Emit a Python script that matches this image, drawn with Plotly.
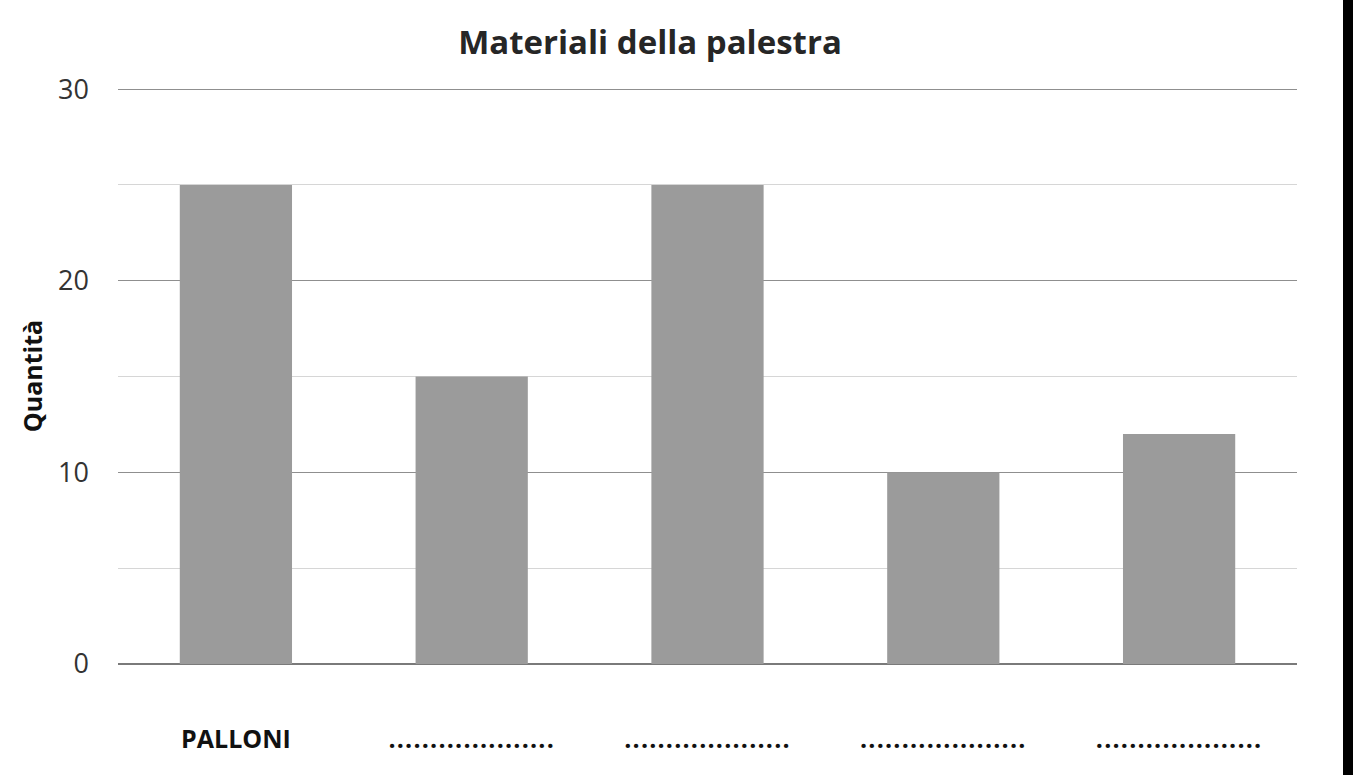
import plotly.graph_objects as go

categories = ["PALLONI", "cat2", "cat3", "cat4", "cat5"]
tick_labels = ["PALLONI"] + ['<span style="letter-spacing:1.2px">' + "." * 20 + "</span>"] * 4
values = [25, 15, 25, 10, 12]
y_ticks = [0, 10, 20, 30]

FONT = "Open Sans"
TXT = "#262626"

W, H = 1353, 775
L, R, T, B = 118, 56, 88, 111
PW = W - L - R

fig = go.Figure(
    go.Bar(
        x=categories,
        y=values,
        marker=dict(color="#9b9b9b", line=dict(width=0)),
        width=0.476,
        hoverinfo="skip",
    )
)

fig.update_layout(
    width=W,
    height=H,
    margin=dict(l=L, r=R, t=T, b=B),
    paper_bgcolor="white",
    plot_bgcolor="white",
    showlegend=False,
    title=dict(
        text="<b>Materiali della palestra</b>",
        x=650 / W,
        xref="container",
        xanchor="center",
        y=1 - 42 / H,
        yref="container",
        yanchor="middle",
        font=dict(family=FONT, size=33, color=TXT),
    ),
    font=dict(family=FONT, color=TXT),
    shapes=[
        dict(
            type="rect",
            xref="paper",
            yref="paper",
            x0=(1343 - L) / PW,
            x1=(1365 - L) / PW,
            y0=-0.3,
            y1=1.3,
            fillcolor="black",
            line=dict(width=0),
            layer="above",
        )
    ],
)

fig.update_xaxes(
    tickmode="array",
    tickvals=categories,
    ticktext=tick_labels,
    tickfont=dict(family=FONT, size=25, color="#111111", weight="bold"),
    ticklabelstandoff=58,
    showgrid=False,
    showline=False,
    zeroline=False,
    ticks="",
    range=[-0.5, 4.5],
)

fig.update_yaxes(
    range=[0, 30.06],
    tickmode="array",
    tickvals=y_ticks,
    tickfont=dict(family=FONT, size=27, color="#333333"),
    ticklabelstandoff=28,
    showgrid=True,
    gridcolor="#8f8f8f",
    gridwidth=1.2,
    zeroline=True,
    zerolinecolor="#7a7a7a",
    zerolinewidth=1.5,
    showline=False,
    ticks="",
    minor=dict(tickvals=[5, 15, 25], showgrid=True, gridcolor="#d6d6d6", gridwidth=1),
    title=dict(
        text="<b>Quantità</b>",
        font=dict(family=FONT, size=25, color="#111111"),
        standoff=8,
    ),
)

fig.write_html(
    "out.html",
    config={"displayModeBar": False},
    post_script="document.body.style.margin='0';document.body.style.overflow='hidden';",
)
